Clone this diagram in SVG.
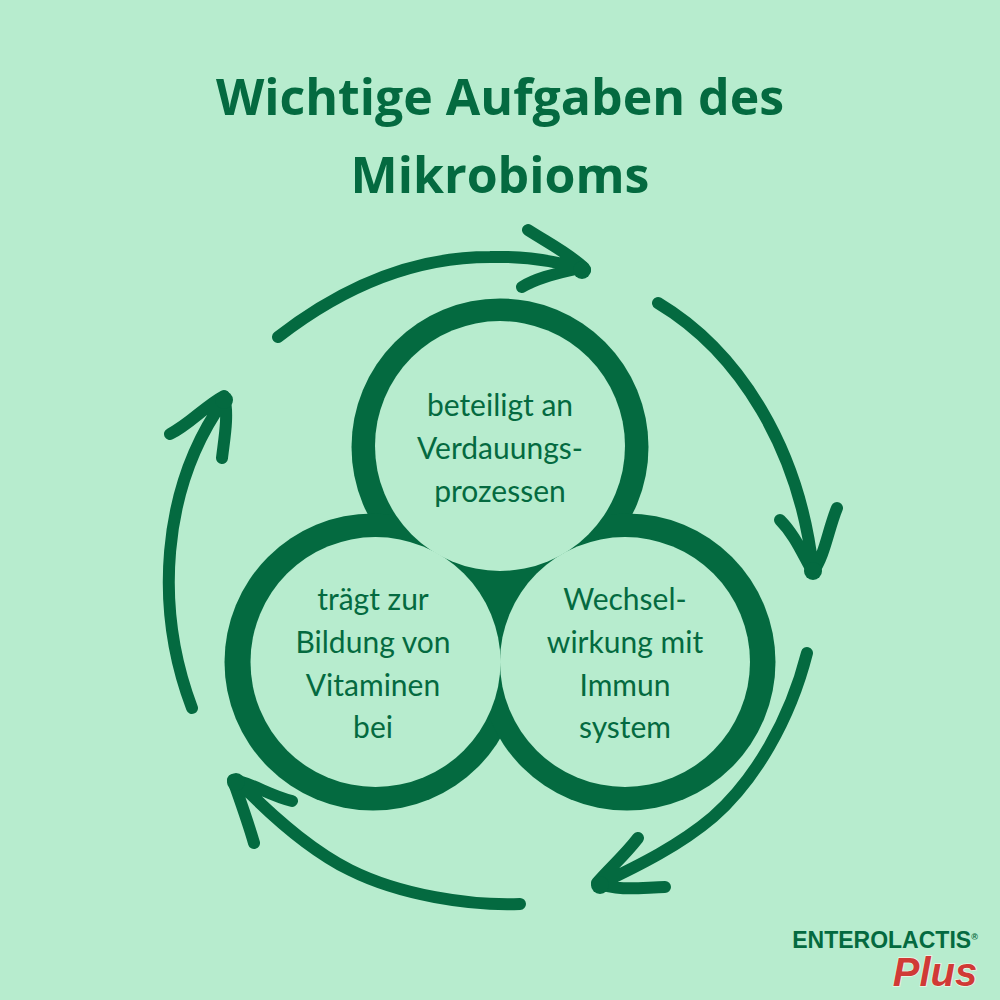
<svg xmlns="http://www.w3.org/2000/svg" width="1000" height="1000" viewBox="0 0 1000 1000">
<style>
text{font-family:"Lato","Open Sans",sans-serif;fill:#046a40;text-anchor:middle;font-variant-ligatures:none}
.t{font-family:"Open Sans",sans-serif;font-size:50px;font-weight:700}
.l{font-size:30px}
.a{fill:none;stroke:#046a40;stroke-width:12;stroke-linecap:round;stroke-linejoin:round}
.d{fill:#046a40}
.c{fill:#b7ecce}
.g{font-family:"Liberation Sans",sans-serif;font-weight:700}
</style>
<rect width="1000" height="1000" fill="#b7ecce"/>
<g id="title"><text class="t" x="500" y="115">Wichtige Aufgaben des</text><text class="t" x="500" y="193">Mikrobioms</text></g>
<g id="connectors">
<path class="a" d="M278 337C345 285 415 257 490 257C530 256 560 262 585 270M528 230C550 244 568 253 583 267C565 272 540 276 522 287"/>
<circle class="d" cx="582" cy="270" r="9"/>
<path class="a" d="M658 303C740 352 800 450 813 570M780 520C795 535 803 555 813 572C825 555 828 530 837 508"/>
<circle class="d" cx="813" cy="571" r="9"/>
<path class="a" d="M807 653C790 720 755 780 713 817C680 845 640 865 600 884M638 838C625 855 610 868 597 883C620 892 645 887 665 887"/>
<circle class="d" cx="600" cy="885" r="9"/>
<path class="a" d="M520 904C470 906 400 895 350 870C320 855 280 825 238 781M254 843C248 822 240 800 233 780C250 782 270 796 292 801"/>
<circle class="d" cx="236" cy="782" r="9"/>
<path class="a" d="M192 708C155 610 160 490 224 400M170 434C190 424 205 406 224 396C229 415 224 440 222 458"/>
<circle class="d" cx="224" cy="400" r="9"/>
</g>
<g id="rings"><circle class="d" cx="500" cy="447" r="148.5"/><circle class="d" cx="373" cy="662" r="148.5"/><circle class="d" cx="627" cy="662" r="148.5"/><polygon class="d" points="500,446 375,662 625,662"/></g>
<g id="node-top"><circle class="c" cx="500" cy="446" r="125"/><text class="l" x="500" y="416">beteiligt an</text><text class="l" x="500" y="459">Verdauungs-</text><text class="l" x="500" y="502">prozessen</text></g>
<g id="node-left"><circle class="c" cx="375.5" cy="662" r="125"/><text class="l" x="373" y="610">trägt zur</text><text class="l" x="373" y="653">Bildung von</text><text class="l" x="373" y="696">Vitaminen</text><text class="l" x="373" y="738">bei</text></g>
<g id="node-right"><circle class="c" cx="625" cy="662" r="125"/><text class="l" x="625" y="610">Wechsel-</text><text class="l" x="625" y="653">wirkung mit</text><text class="l" x="625" y="696">Immun</text><text class="l" x="625" y="738">system</text></g>
<g id="logo"><text class="g" x="885" y="948" font-size="23">ENTEROLACTIS<tspan font-size="9" dy="-8">®</tspan></text><text class="g" x="935" y="986" font-size="40" font-style="italic" style="fill:#d03a36;stroke:#eef5e6;stroke-width:1.5;paint-order:stroke">Plus</text></g>
</svg>
